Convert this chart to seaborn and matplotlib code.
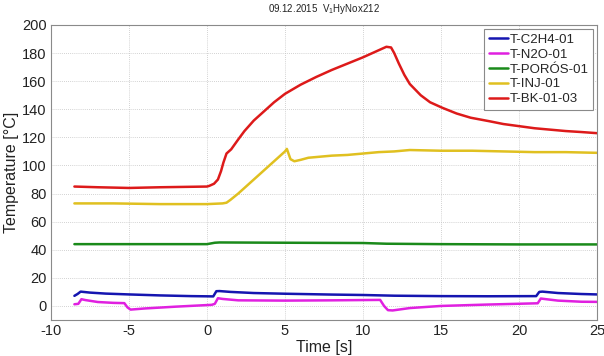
import matplotlib
matplotlib.use("Agg")
import matplotlib.pyplot as plt
import seaborn as sns
import pandas as pd

# ---------------- data ----------------
series_names = ["T-C2H4-01", "T-N2O-01", "T-PORÓS-01", "T-INJ-01", "T-BK-01-03"]
series_colors = ["#1515b0", "#e020e0", "#1a8a1a", "#e0c020", "#dd1a1a"]

c2h4_t = [-8.5, -8.3, -8.1, -7.5, -6.5, -5.0, -3.0, -1.0, 0.4, 0.6, 0.8, 1.5, 3.0, 5.0, 8.0, 10.0, 12.0, 15.0, 18.0, 21.1, 21.3, 21.5, 22.5, 24.0, 25.0]
c2h4_v = [7.2, 8.5, 10.2, 9.5, 8.8, 8.2, 7.5, 7.0, 6.8, 10.5, 10.6, 10.0, 9.2, 8.7, 8.1, 7.8, 7.3, 7.0, 6.9, 7.0, 10.0, 10.2, 9.2, 8.5, 8.2]

n2o_t = [-8.5, -8.25, -8.05, -7.8, -7.0, -6.0, -5.3, -5.1, -4.9, -4.0, -2.0, 0.3, 0.5, 0.7, 1.0, 2.0, 5.0, 8.0, 11.1, 11.35, 11.6, 11.9, 13.0, 15.0, 18.0, 21.2, 21.4, 21.6, 22.5, 24.0, 25.0]
n2o_v = [1.2, 1.5, 4.8, 4.2, 2.8, 2.2, 2.0, -1.0, -2.6, -1.8, -0.5, 0.8, 1.5, 5.5, 5.0, 4.0, 3.8, 4.0, 4.3, 0.0, -3.0, -3.2, -1.5, 0.0, 1.0, 1.9, 5.3, 5.0, 3.8, 3.0, 2.9]

poros_t = [-8.5, -5.0, 0.0, 0.5, 0.8, 5.0, 10.0, 11.5, 15.0, 20.0, 25.0]
poros_v = [44.0, 44.0, 44.0, 45.0, 45.2, 45.0, 44.8, 44.3, 44.0, 43.8, 43.8]

inj_t = [-8.5, -6.0, -3.0, 0.0, 1.0, 1.25, 1.5, 2.0, 2.5, 3.0, 3.5, 4.0, 4.5, 5.0, 5.12, 5.35, 5.6, 6.0, 6.5, 7.0, 8.0, 9.0, 10.0, 11.0, 12.0, 13.0, 15.0, 17.0, 19.0, 21.0, 23.0, 25.0]
inj_v = [73.0, 73.0, 72.5, 72.5, 73.0, 73.5, 75.5, 80.0, 85.0, 90.0, 95.0, 100.0, 105.0, 110.0, 111.8, 104.5, 103.0, 104.0, 105.5, 106.0, 107.0, 107.5, 108.5, 109.5, 110.0, 111.0, 110.5, 110.5, 110.0, 109.5, 109.5, 109.0]

bk_t = [-8.5, -7.0, -5.0, -3.0, 0.0, 0.15, 0.45, 0.7, 0.9, 1.05, 1.25, 1.55, 2.0, 2.4, 3.0, 3.7, 4.3, 5.0, 6.0, 7.0, 8.0, 9.0, 10.0, 10.5, 11.0, 11.5, 11.8, 12.0, 12.3, 12.65, 13.0, 13.7, 14.3, 15.1, 16.0, 16.9, 18.1, 19.0, 20.0, 21.0, 22.0, 23.0, 24.0, 25.0]
bk_v = [85.0, 84.5, 84.0, 84.5, 85.0, 85.5, 87.0, 90.0, 96.0, 102.0, 108.5, 111.5, 118.5, 124.5, 132.0, 139.0, 145.0, 151.0, 157.5, 163.0, 168.0, 172.5, 177.0, 179.5, 182.0, 184.5, 184.0, 180.0, 172.5, 164.5, 158.0, 150.0, 145.0, 141.0, 137.0, 134.0, 131.5, 129.5, 128.0, 126.5, 125.5, 124.5, 123.8, 123.0]

x_ticks = [-10, -5, 0, 5, 10, 15, 20, 25]
y_ticks = [0, 20, 40, 60, 80, 100, 120, 140, 160, 180, 200]

# ---------------- build table ----------------
frames = []
for name, t, v in zip(series_names,
                      [c2h4_t, n2o_t, poros_t, inj_t, bk_t],
                      [c2h4_v, n2o_v, poros_v, inj_v, bk_v]):
    frames.append(pd.DataFrame({"Time": t, "Temp": v, "Series": name}))
df = pd.concat(frames, ignore_index=True)

sns.set_style("white")
plt.rcParams["font.family"] = ["Liberation Sans", "DejaVu Sans"]
plt.rcParams["axes.unicode_minus"] = False

fig = plt.figure(figsize=(6.04, 3.56), dpi=100)
ax = fig.add_axes([51 / 604, 1 - 320 / 356, (597 - 51) / 604, (320 - 25) / 356])

sns.lineplot(data=df, x="Time", y="Temp", hue="Series", hue_order=series_names,
             palette=dict(zip(series_names, series_colors)), sort=False,
             estimator=None, linewidth=1.8, ax=ax)

ax.set_xlim(-10, 25)
ax.set_ylim(-10, 200)
ax.set_xticks(x_ticks)
ax.set_yticks(y_ticks)
ax.tick_params(axis="both", labelsize=10.5, direction="in", length=3,
               color="#707070", labelcolor="#222222", pad=3)
ax.grid(True, linestyle=(0, (1, 1.5)), color="#c4c4c4", linewidth=0.6)
for s in ax.spines.values():
    s.set_color("#8a8a8a")
    s.set_linewidth(0.8)

ax.set_xlabel("Time [s]", fontsize=11.5, labelpad=1, color="#222222")
ax.set_ylabel("Temperature [°C]", fontsize=11.5, labelpad=2, color="#222222")
ax.set_title("09.12.2015  V$_\\mathregular{1}$HyNox212", fontsize=7, pad=9, color="#222222")

leg = ax.legend(loc="upper right", fontsize=9.5, handlelength=1.45, handletextpad=0.1,
                labelspacing=0.2, borderpad=0.35, borderaxespad=0.3, frameon=True,
                fancybox=False, edgecolor="#8a8a8a", framealpha=1)
leg.get_frame().set_linewidth(0.8)
for line in leg.get_lines():
    line.set_linewidth(1.8)

fig.savefig("out.png", dpi=100)
